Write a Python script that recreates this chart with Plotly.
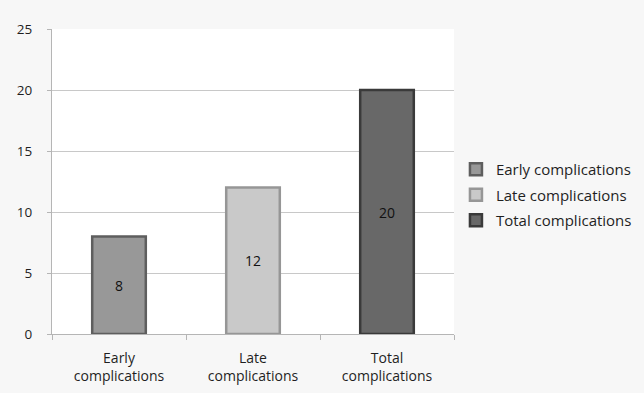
import plotly.graph_objects as go

# Complication counts
categories = ["Early complications", "Late complications", "Total complications"]
tick_labels = ["Early<br>complications", "Late<br>complications", "Total<br>complications"]
counts = [8, 12, 20]

fill_colors = ["#989898", "#c9c9c9", "#686868"]
edge_colors = ["#5e5e5e", "#969696", "#3a3a3a"]

FONT = "Open Sans, Liberation Sans, sans-serif"

fig = go.Figure()
for cat, val, fc, ec in zip(categories, counts, fill_colors, edge_colors):
    fig.add_trace(go.Bar(
        x=[cat], y=[val], name=cat, width=0.4,
        marker=dict(color=fc, line=dict(color=ec, width=2.5)),
        text=[str(val)], textposition="inside", insidetextanchor="middle",
        textfont=dict(family=FONT, size=14, color="#111111"),
        legendgroup=cat,
    ))

fig.update_layout(
    width=644, height=393,
    margin=dict(l=52, r=190, t=29, b=59, autoexpand=False),
    paper_bgcolor="#f7f7f7",
    plot_bgcolor="#ffffff",
    barmode="overlay",
    font=dict(family=FONT, size=13, color="#1f1f1f"),
    showlegend=True,
    legend=dict(
        xref="container", yref="container",
        x=0.708, xanchor="left", y=0.504, yanchor="middle",
        font=dict(size=15, color="#1f1f1f"),
        tracegroupgap=3, itemwidth=30,
        bgcolor="rgba(0,0,0,0)",
    ),
    xaxis=dict(
        tickmode="array", tickvals=categories, ticktext=tick_labels,
        tickfont=dict(size=14),
        ticklabelstandoff=11,
        automargin=False,
        showline=True, linecolor="#b5b5b5", linewidth=1,
        ticks="outside", tickson="boundaries", ticklen=5, tickcolor="#b5b5b5",
        showgrid=False, mirror=False,
    ),
    yaxis=dict(
        range=[0, 25], dtick=5,
        tickfont=dict(size=13.5),
        ticklabelstandoff=12,
        automargin=False,
        showline=True, linecolor="#b5b5b5", linewidth=1,
        ticks="outside", ticklen=4, tickcolor="#b5b5b5",
        gridcolor="#c8c8c8", gridwidth=1,
        zeroline=False,
    ),
)

fig.write_html("out.html")
